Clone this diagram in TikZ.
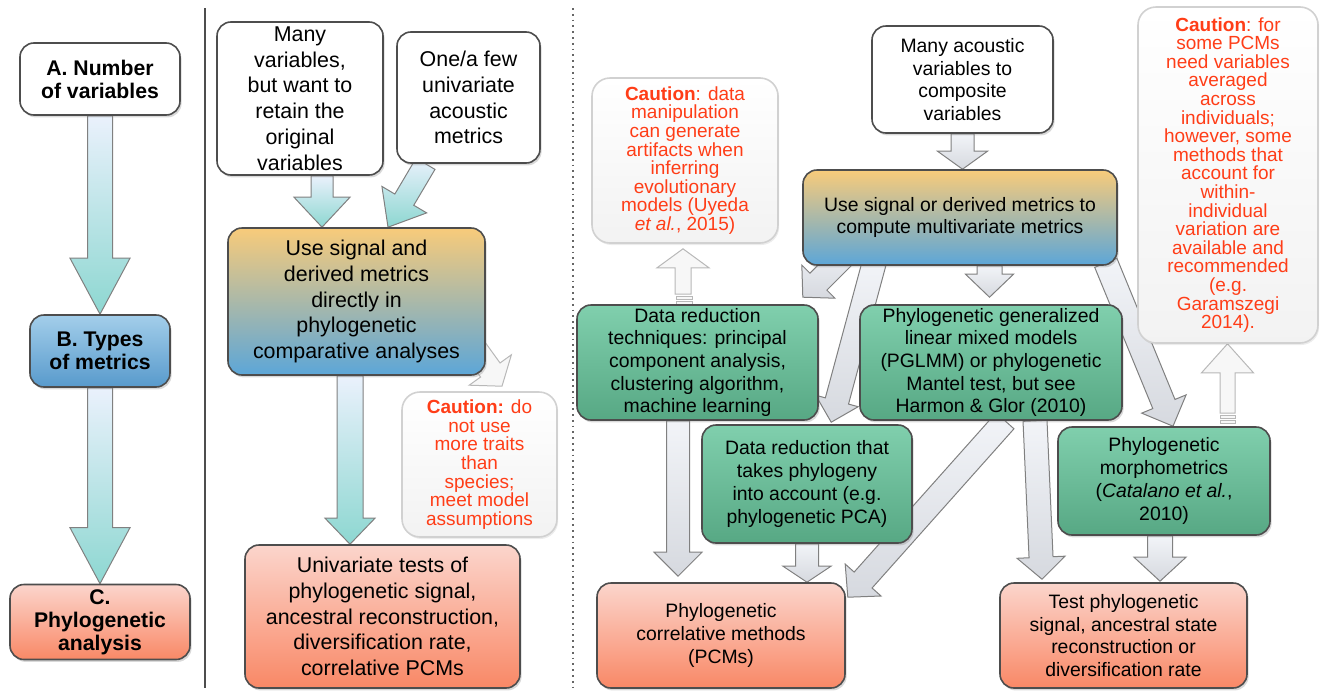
\documentclass[tikz,border=0pt]{standalone}
\usepackage{fontspec}
\setmainfont{Liberation Sans}
\usetikzlibrary{calc,shadows,backgrounds}

\definecolor{edgegray}{HTML}{4D4D4D}
\definecolor{cautionred}{HTML}{FF3D17}

% fat block arrow: style, start, end, half shaft, half head, head length
\newcommand{\fatarrow}[6]{%
  \coordinate (fa-s) at #2;
  \coordinate (fa-e) at #3;
  \coordinate (fa-b) at ($(fa-e)!#6!(fa-s)$);
  \draw[#1] ($(fa-s)!#4!90:(fa-e)$) -- ($(fa-b)!#4!-90:(fa-s)$)
    -- ($(fa-b)!#5!-90:(fa-s)$) -- (fa-e) -- ($(fa-b)!#5!90:(fa-s)$)
    -- ($(fa-b)!#4!90:(fa-s)$) -- ($(fa-s)!#4!-90:(fa-e)$) -- cycle;
}

\begin{document}
\begin{tikzpicture}[x=0.5pt,y=-0.5pt,
  card/.style={draw=edgegray,line width=0.8pt,rounded corners=7pt,align=center,
    inner sep=0pt,drop shadow={shadow xshift=0.8pt,shadow yshift=-1.2pt,opacity=0.3}},
  stage/.style={card,font=\bfseries\fontsize{10.6}{11.5}\selectfont},
  midtext/.style={font=\fontsize{10.7}{12.85}\selectfont},
  righttext/.style={font=\fontsize{9.7}{11.35}\selectfont},
  plainbox/.style={card,fill=white},
  bluebox/.style={top color={rgb,255:red,163;green,206;blue,234},bottom color={rgb,255:red,88;green,154;blue,204}},
  redbox/.style={top color={rgb,255:red,251;green,213;blue,204},bottom color={rgb,255:red,249;green,136;blue,102}},
  mixbox/.style={top color={rgb,255:red,248;green,203;blue,122},bottom color={rgb,255:red,92;green,166;blue,216}},
  greenbox/.style={top color={rgb,255:red,128;green,207;blue,173},bottom color={rgb,255:red,87;green,168;blue,132}},
  cautionbox/.style={draw=black!18,line width=0.8pt,rounded corners=9pt,align=center,inner sep=0pt,
    top color=white,bottom color=black!5,text=cautionred,font=\fontsize{9.5}{9.3}\selectfont,
    drop shadow={shadow xshift=0.6pt,shadow yshift=-1pt,opacity=0.15}},
  tealarrow/.style={draw=black!50,line width=0.5pt,top color={rgb,255:red,234;green,241;blue,252},
    bottom color={rgb,255:red,141;green,215;blue,209}},
  grayarrow/.style={draw=black!50,line width=0.5pt,top color={rgb,255:red,242;green,244;blue,248},
    bottom color={rgb,255:red,214;green,217;blue,223}},
  whitearrow/.style={draw=black!28,line width=0.5pt,fill=black!3}]
\useasboundingbox (0,0) rectangle (1325,691);

% separators
\draw[edgegray,line width=0.8pt] (205,8) -- (205,688);
\draw[black!60,line width=0.9pt,dotted] (573,8) -- (573,688);

% left column
\node[stage,fill=white,minimum width=80pt,minimum height=36pt] (numvar) at (100,79) {A. Number\\of variables};
\node[stage,bluebox,minimum width=70pt,minimum height=36pt] (types) at (100,351) {B. Types\\of metrics};
\node[stage,redbox,minimum width=90pt,minimum height=37.5pt] (phyl) at (100,622) {C.\\Phylogenetic\\analysis};

% middle column
\node[plainbox,midtext,minimum width=83pt,minimum height=76.5pt] (manyvar) at (300,98.5)
  {Many\\variables,\\but want to\\retain the\\original\\variables};
\node[plainbox,midtext,minimum width=71.5pt,minimum height=65.5pt] (fewvar) at (468.5,97.5)
  {One/a few\\univariate\\acoustic\\metrics};
\node[card,mixbox,midtext,minimum width=128.5pt,minimum height=73.5pt] (direct) at (356.5,301.5)
  {Use signal and\\derived metrics\\directly in\\phylogenetic\\comparative analyses};
\node[card,redbox,midtext,minimum width=137.5pt,minimum height=71.5pt] (univar) at (382.5,616.5)
  {Univariate tests of\\phylogenetic signal,\\ancestral reconstruction,\\diversification rate,\\correlative PCMs};
\node[cautionbox,minimum width=77.5pt,minimum height=72.5pt] (caution1) at (479.5,464.5)
  {\textbf{Caution:} do\\not use\\more traits\\than\\species;\\meet model\\assumptions};

% right part
\node[cautionbox,minimum width=93pt,minimum height=82.5pt] (caution2) at (685,160.5)
  {\textbf{Caution}: data\\manipulation\\can generate\\artifacts when\\inferring\\evolutionary\\models (Uyeda\\\textit{et al.}, 2015)};
\node[plainbox,righttext,minimum width=90.5pt,minimum height=53.5pt] (acoustic) at (962.5,79.5)
  {Many acoustic\\variables to\\composite\\variables};
\node[card,mixbox,righttext,minimum width=157pt,minimum height=47.5pt] (multi) at (960,217.5)
  {Use signal or derived metrics to\\compute multivariate metrics};
\node[card,greenbox,righttext,minimum width=120.5pt,minimum height=57.5pt] (reduct) at (697.5,362.5)
  {Data reduction\\techniques: principal\\component analysis,\\clustering algorithm,\\machine learning};
\node[card,greenbox,righttext,minimum width=131pt,minimum height=57.5pt] (pglmm) at (991,362.5)
  {Phylogenetic generalized\\linear mixed models\\(PGLMM) or phylogenetic\\Mantel test, but see\\Harmon \& Glor (2010)};
\node[card,greenbox,righttext,minimum width=105pt,minimum height=59pt] (phylred) at (807,484)
  {Data reduction that\\takes phylogeny\\into account (e.g.\\phylogenetic PCA)};
\node[card,greenbox,righttext,minimum width=106pt,minimum height=54pt] (morph) at (1164,481)
  {Phylogenetic\\morphometrics\\(\textit{Catalano et al.},\\2010)};
\node[cautionbox,minimum width=90pt,minimum height=168pt] (caution3) at (1228,175)
  {\textbf{Caution}: for\\some PCMs\\need variables\\averaged\\across\\individuals;\\however, some\\methods that\\account for\\within-\\individual\\variation are\\available and\\recommended\\(e.g.\\Garamszegi\\2014).};
\node[card,redbox,righttext,minimum width=124pt,minimum height=52.5pt] (pcms) at (721,635.5)
  {Phylogenetic\\correlative methods\\(PCMs)};
\node[card,redbox,righttext,minimum width=123.5pt,minimum height=52.5pt] (testsig) at (1123.5,635.5)
  {Test phylogenetic\\signal, ancestral state\\reconstruction or\\diversification rate};

\begin{scope}[on background layer]
% left
\fatarrow{tealarrow}{(numvar.south)}{(types.north)}{6.25pt}{15pt}{28pt}
\fatarrow{tealarrow}{(types.south)}{(phyl.north)}{6.25pt}{15pt}{28pt}
% middle
\fatarrow{tealarrow}{($(manyvar.south)+(22,0)$)}{($(direct.north)+(-34.5,0)$)}{5.5pt}{14pt}{15pt}
\fatarrow{tealarrow}{($(fewvar.south)+(-43,0)$)}{($(direct.north)+(31.5,0)$)}{5.5pt}{13pt}{16pt}
\fatarrow{tealarrow}{($(direct.south)+(-6.5,0)$)}{($(univar.north)+(-32.5,0)$)}{6.5pt}{12.5pt}{13pt}
\fatarrow{whitearrow}{($(direct.south east)+(-18,-37)$)}{($(caution1.north)+(22.5,-5)$)}{6pt}{13pt}{10pt}
% right
\fatarrow{whitearrow}{($(reduct.north)+(-14.5,-10)$)}{($(caution2.south)+(-2,5)$)}{4pt}{13pt}{9.5pt}
\draw[whitearrow] ($(reduct.north)+(-21.5,-8)$) rectangle ++(16,3);
\draw[whitearrow] ($(reduct.north)+(-21.5,-3)$) rectangle ++(16,3);
\fatarrow{grayarrow}{(acoustic.south)}{(acoustic.south |- multi.north)}{5.75pt}{12.5pt}{9pt}
\fatarrow{grayarrow}{($(multi.south west)+(48,-16)$)}{($(reduct.north east)+(-16,-7)$)}{6pt}{11.7pt}{11pt}
\fatarrow{grayarrow}{($(multi.south west)+(72,-3)$)}{($(phylred.north west)+(130,-2)$)}{6pt}{11pt}{11pt}
\fatarrow{grayarrow}{($(multi.south)+(29.5,0)$)}{($(pglmm.north)+(-1.5,-7)$)}{6.25pt}{12pt}{11.5pt}
\fatarrow{grayarrow}{($(multi.south east)+(-12,-3)$)}{($(morph.north)+(9,0)$)}{6pt}{12pt}{12pt}
\fatarrow{whitearrow}{($(morph.north)+(63.5,-13)$)}{($(caution3.south)+(-0.5,0)$)}{3.75pt}{13pt}{14.5pt}
\draw[whitearrow] ($(morph.north)+(56,-11)$) rectangle ++(15,3);
\draw[whitearrow] ($(morph.north)+(56,-6)$) rectangle ++(15,3);
\fatarrow{grayarrow}{($(reduct.south)+(-19.5,0)$)}{($(pcms.north)+(-43,-6)$)}{5.75pt}{12pt}{12pt}
\fatarrow{grayarrow}{(phylred.south)}{($(pcms.north)+(86,0)$)}{5.75pt}{12pt}{8pt}
\fatarrow{grayarrow}{($(pglmm.south)+(14,0)$)}{($(pcms.north east)+(2,15)$)}{6pt}{12pt}{11.5pt}
\fatarrow{grayarrow}{($(pglmm.south)+(44,0)$)}{($(testsig.north)+(-81.5,-3)$)}{6pt}{12pt}{11pt}
\fatarrow{grayarrow}{($(morph.south)+(-4,0)$)}{($(testsig.north)+(36.5,-1)$)}{6.25pt}{13pt}{12pt}
\end{scope}
\end{tikzpicture}
\end{document}
